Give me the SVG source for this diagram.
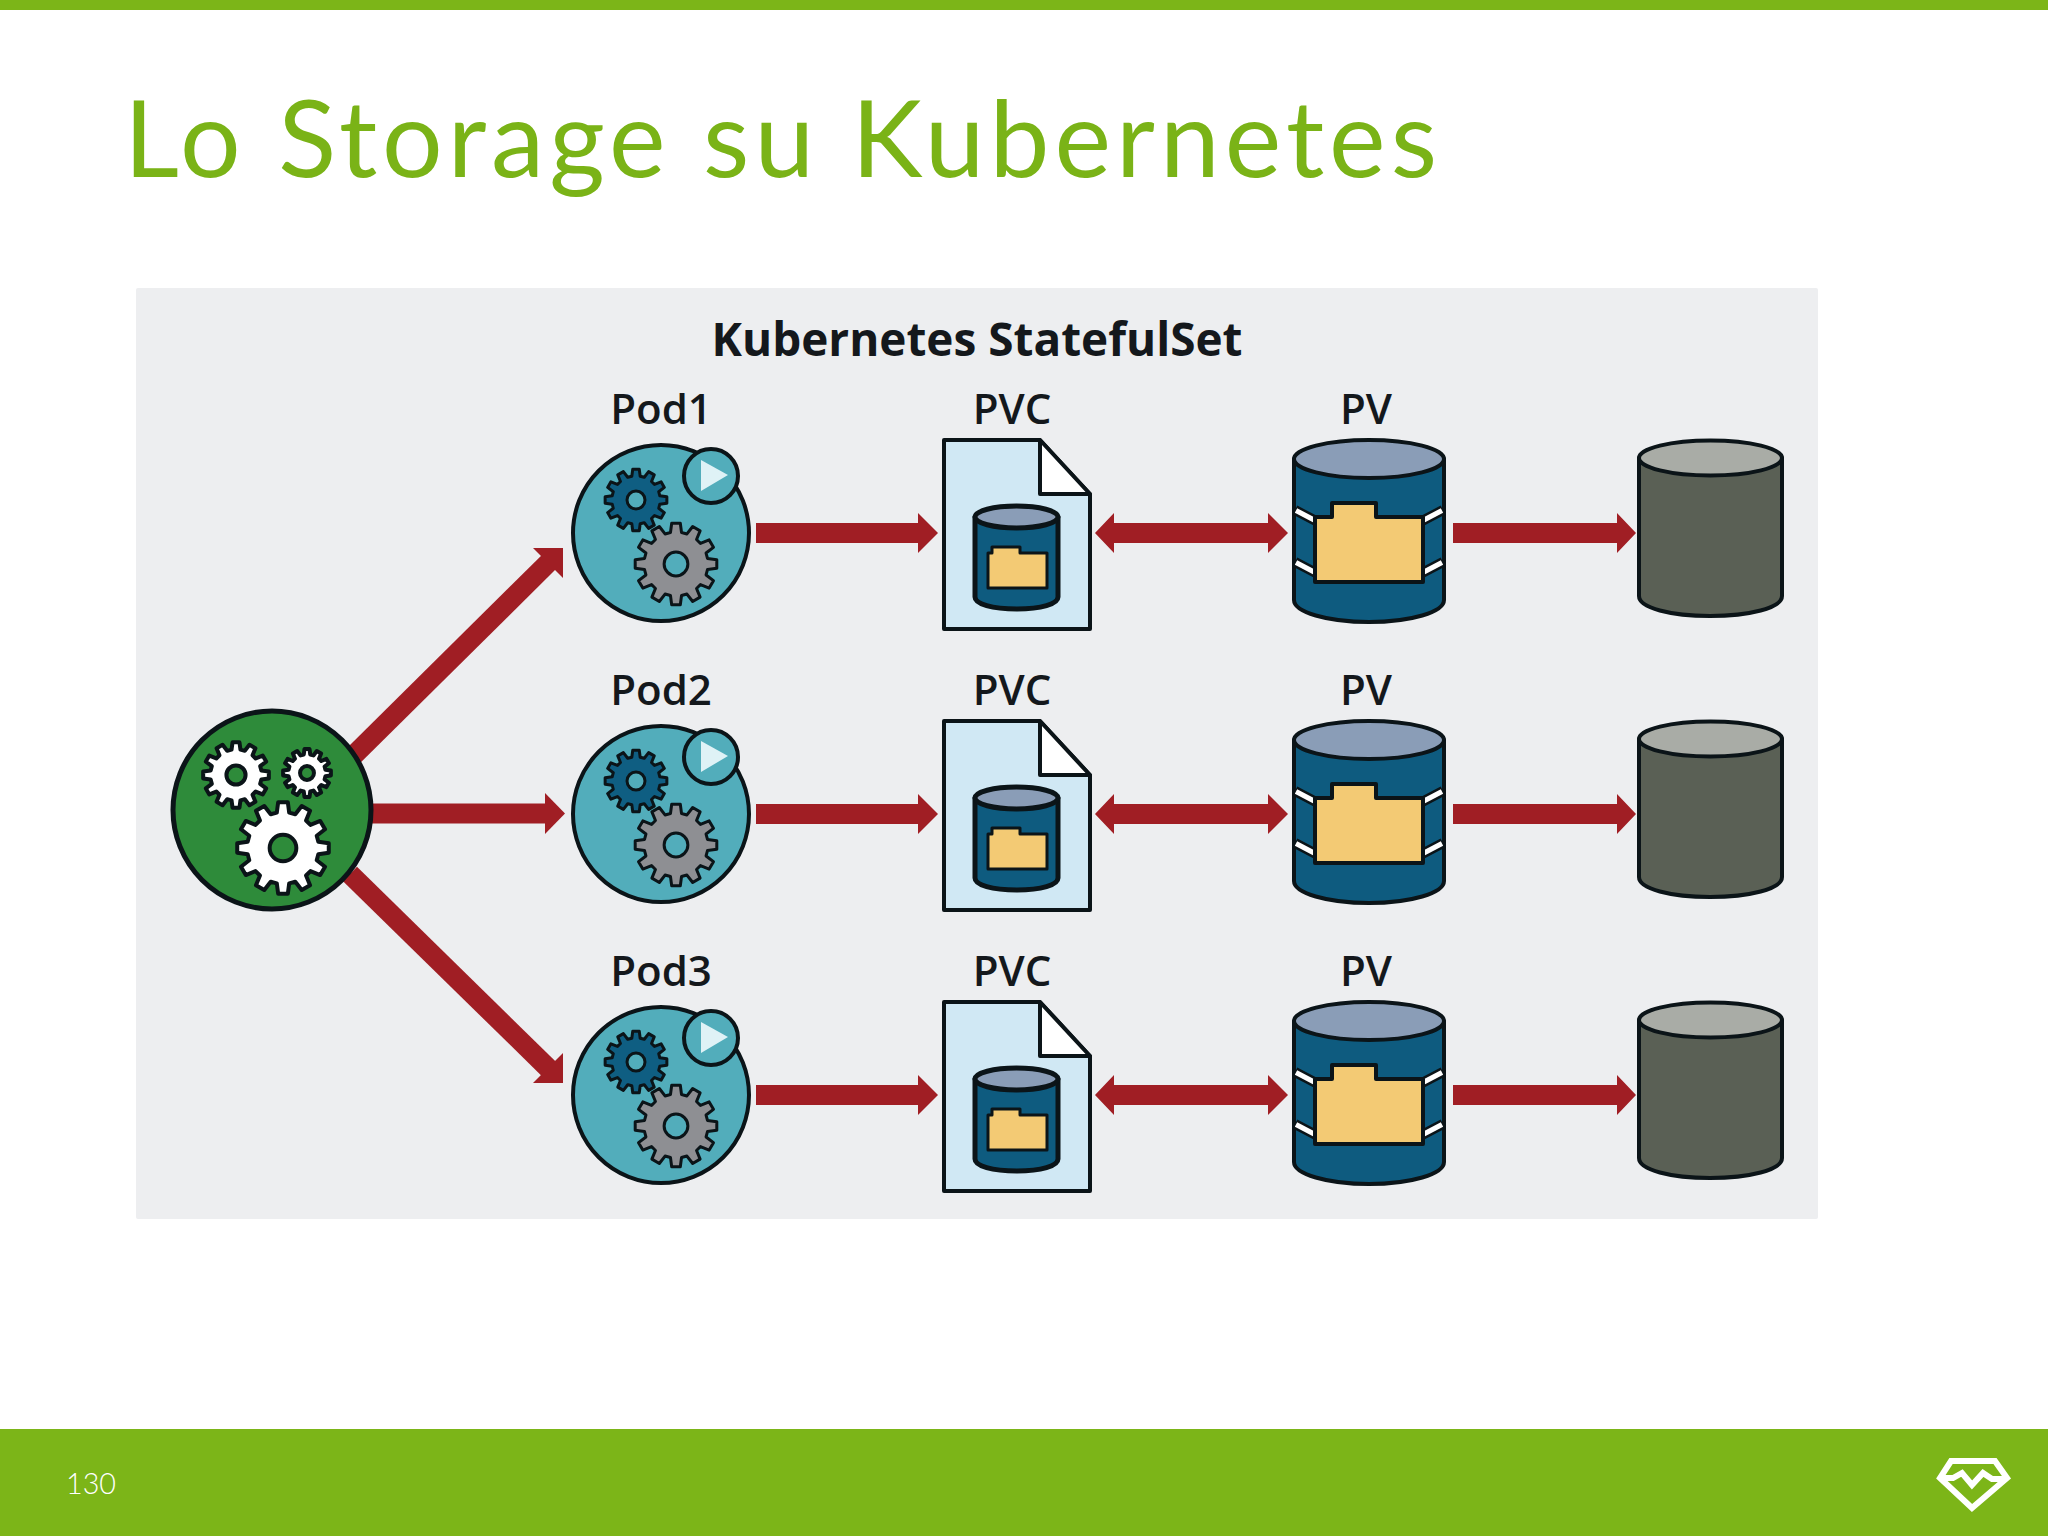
<svg xmlns="http://www.w3.org/2000/svg" width="2048" height="1536" viewBox="0 0 2048 1536">
<style>
.lbl{font-family:"Open Sans","Noto Sans",sans-serif;font-weight:600;font-size:42px;fill:#14181c;text-anchor:middle}
.ol{stroke:#0b1418;stroke-width:4;stroke-linejoin:round}
.gr{vector-effect:non-scaling-stroke;fill-rule:evenodd;stroke-linejoin:round}
.ar{fill:#a01e24}
.bk{fill:none;stroke:#0b1418;stroke-width:10}
.wh{fill:none;stroke:#fff;stroke-width:5}
</style>
<defs>
<path id="gear" class="gr" d="M76.8-13.5L99.5-10.5L99.5 10.5L76.8 13.5L73.3 26.7L91.4 40.7L80.9 58.8L59.7 50.1L50.1 59.7L58.8 80.9L40.7 91.4L26.7 73.3L13.5 76.8L10.5 99.5L-10.5 99.5L-13.5 76.8L-26.7 73.3L-40.7 91.4L-58.8 80.9L-50.1 59.7L-59.7 50.1L-80.9 58.8L-91.4 40.7L-73.3 26.7L-76.8 13.5L-99.5 10.5L-99.5-10.5L-76.8-13.5L-73.3-26.7L-91.4-40.7L-80.9-58.8L-59.7-50.1L-50.1-59.7L-58.8-80.9L-40.7-91.4L-26.7-73.3L-13.5-76.8L-10.5-99.5L10.5-99.5L13.5-76.8L26.7-73.3L40.7-91.4L58.8-80.9L50.1-59.7L59.7-50.1L80.9-58.8L91.4-40.7L73.3-26.7ZM29 0A29 29 0 1 0-29 0A29 29 0 1 0 29 0Z"/>
<g id="pod">
<circle cx="661" cy="533" r="88" fill="#52adbb" class="ol"/>
<use href="#gear" transform="translate(636 500) scale(.31)" fill="#0f5e82" class="ol" style="stroke-width:3"/>
<use href="#gear" transform="translate(676 564) scale(.41)" fill="#8e8f93" class="ol" style="stroke-width:3"/>
<circle cx="711" cy="476" r="27" fill="#52adbb" class="ol"/>
<path d="M701 460L728 475L701 491Z" fill="#dff2f6"/>
</g>
<g id="pvc">
<path d="M944 440H1040L1090 494V629H944Z" fill="#d0e8f4" class="ol"/>
<path d="M1040 440L1090 494H1040Z" fill="#fff" class="ol"/>
<path d="M975 517V597C975 604 992 609 1017 609C1041 609 1058 604 1058 597V517Z" fill="#0e5b7f" class="ol" style="stroke-width:5"/>
<ellipse cx="1016.500" cy="517" rx="41.500" ry="11" fill="#8a9db7" class="ol" style="stroke-width:5"/>
<path d="M988 588V553H992V547H1020V553H1047V588Z" fill="#f3ca74" class="ol" style="stroke-width:3"/>
</g>
<g id="pv">
<path d="M1294 459V600C1294 612 1327 622 1369 622C1411 622 1444 612 1444 600V459Z" fill="#0e5b7f" class="ol"/>
<ellipse cx="1369" cy="459" rx="75" ry="19" fill="#8a9db7" class="ol"/>
<path class="bk" d="M1295 510L1316 521M1295 562L1316 573M1443 510L1422 521M1443 562L1422 573"/>
<path class="wh" d="M1296 510.500L1316 521M1296 562.500L1316 573M1442 510.500L1422 521M1442 562.500L1422 573"/>
<path d="M1315 582V517H1332V503H1376V517H1423V582Z" fill="#f3ca74" class="ol"/>
</g>
<g id="disk">
<path d="M1639 458V596C1639 608 1671 616 1710 616C1749 616 1782 608 1782 596V458Z" fill="#5a6055" class="ol"/>
<ellipse cx="1710.500" cy="458" rx="71.500" ry="17.500" fill="#a9aca6" class="ol"/>
</g>
<g id="rowArrows">
<path class="ar" d="M756 523H918V513L938 533L918 553V543H756Z"/>
<path class="ar" d="M1095 533L1114 513V523H1268V513L1288 533L1268 553V543H1114V553Z"/>
<path class="ar" d="M1453 523H1617V513L1636 533L1617 553V543H1453Z"/>
</g>
</defs>
<rect width="2048" height="1536" fill="#fff"/>
<rect width="2048" height="10" fill="#7cb518"/>
<rect y="1429" width="2048" height="107" fill="#7cb518"/>
<text x="124" y="177" font-family="Lato,'Noto Sans',sans-serif" font-size="107" fill="#7ab317" textLength="1313" lengthAdjust="spacing">Lo Storage su Kubernetes</text>
<text x="66" y="1494" font-family="Lato,'Noto Sans',sans-serif" font-weight="300" font-size="30" fill="#fff" textLength="50" lengthAdjust="spacingAndGlyphs">130</text>
<g id="logo" fill="none" stroke="#fff" stroke-width="6">
<path d="M1951 1461H1995L2007 1478L1972 1508L1940 1478Z"/>
<path d="M1940 1478H1953L1962 1473L1972 1485L1983 1473L1992 1479H2007"/>
</g>
<rect id="panel" x="136" y="288" width="1682" height="931" rx="2" fill="#edeef0"/>
<text x="977" y="356" font-family="'Open Sans','Noto Sans',sans-serif" font-weight="700" font-size="47" fill="#14181c" text-anchor="middle" textLength="531" lengthAdjust="spacingAndGlyphs">Kubernetes StatefulSet</text>
<g id="connectors">
<path d="M352 757L552 559" stroke="#a01e24" stroke-width="20" fill="none"/>
<path class="ar" d="M563 548V578L533 548Z"/>
<path d="M372 813.500H548" stroke="#a01e24" stroke-width="20" fill="none"/>
<path class="ar" d="M545 793L565 813.500L545 834Z"/>
<path d="M350 874L552 1072" stroke="#a01e24" stroke-width="20" fill="none"/>
<path class="ar" d="M563 1083V1053L533 1083Z"/>
<use href="#rowArrows"/>
<use href="#rowArrows" y="281"/>
<use href="#rowArrows" y="562"/>
</g>
<g id="controller">
<circle cx="272" cy="810" r="99" fill="#2e8b3a" stroke="#0b1418" stroke-width="5"/>
<use href="#gear" transform="translate(236 775) scale(.33)" fill="#fff" stroke="#0b1418" style="stroke-width:4"/>
<use href="#gear" transform="translate(307 773) scale(.24)" fill="#fff" stroke="#0b1418" style="stroke-width:4"/>
<use href="#gear" transform="translate(283 848) scale(.46)" fill="#fff" stroke="#0b1418" style="stroke-width:4"/>
</g>
<g id="pod1"><text class="lbl" x="661" y="424">Pod1</text><use href="#pod"/></g>
<g id="pvc1"><text class="lbl" x="1012" y="424">PVC</text><use href="#pvc"/></g>
<g id="pv1"><text class="lbl" x="1366" y="424">PV</text><use href="#pv"/></g>
<g id="disk1"><use href="#disk"/></g>
<g id="pod2"><text class="lbl" x="661" y="705">Pod2</text><use href="#pod" y="281"/></g>
<g id="pvc2"><text class="lbl" x="1012" y="705">PVC</text><use href="#pvc" y="281"/></g>
<g id="pv2"><text class="lbl" x="1366" y="705">PV</text><use href="#pv" y="281"/></g>
<g id="disk2"><use href="#disk" y="281"/></g>
<g id="pod3"><text class="lbl" x="661" y="986">Pod3</text><use href="#pod" y="562"/></g>
<g id="pvc3"><text class="lbl" x="1012" y="986">PVC</text><use href="#pvc" y="562"/></g>
<g id="pv3"><text class="lbl" x="1366" y="986">PV</text><use href="#pv" y="562"/></g>
<g id="disk3"><use href="#disk" y="562"/></g>
</svg>
